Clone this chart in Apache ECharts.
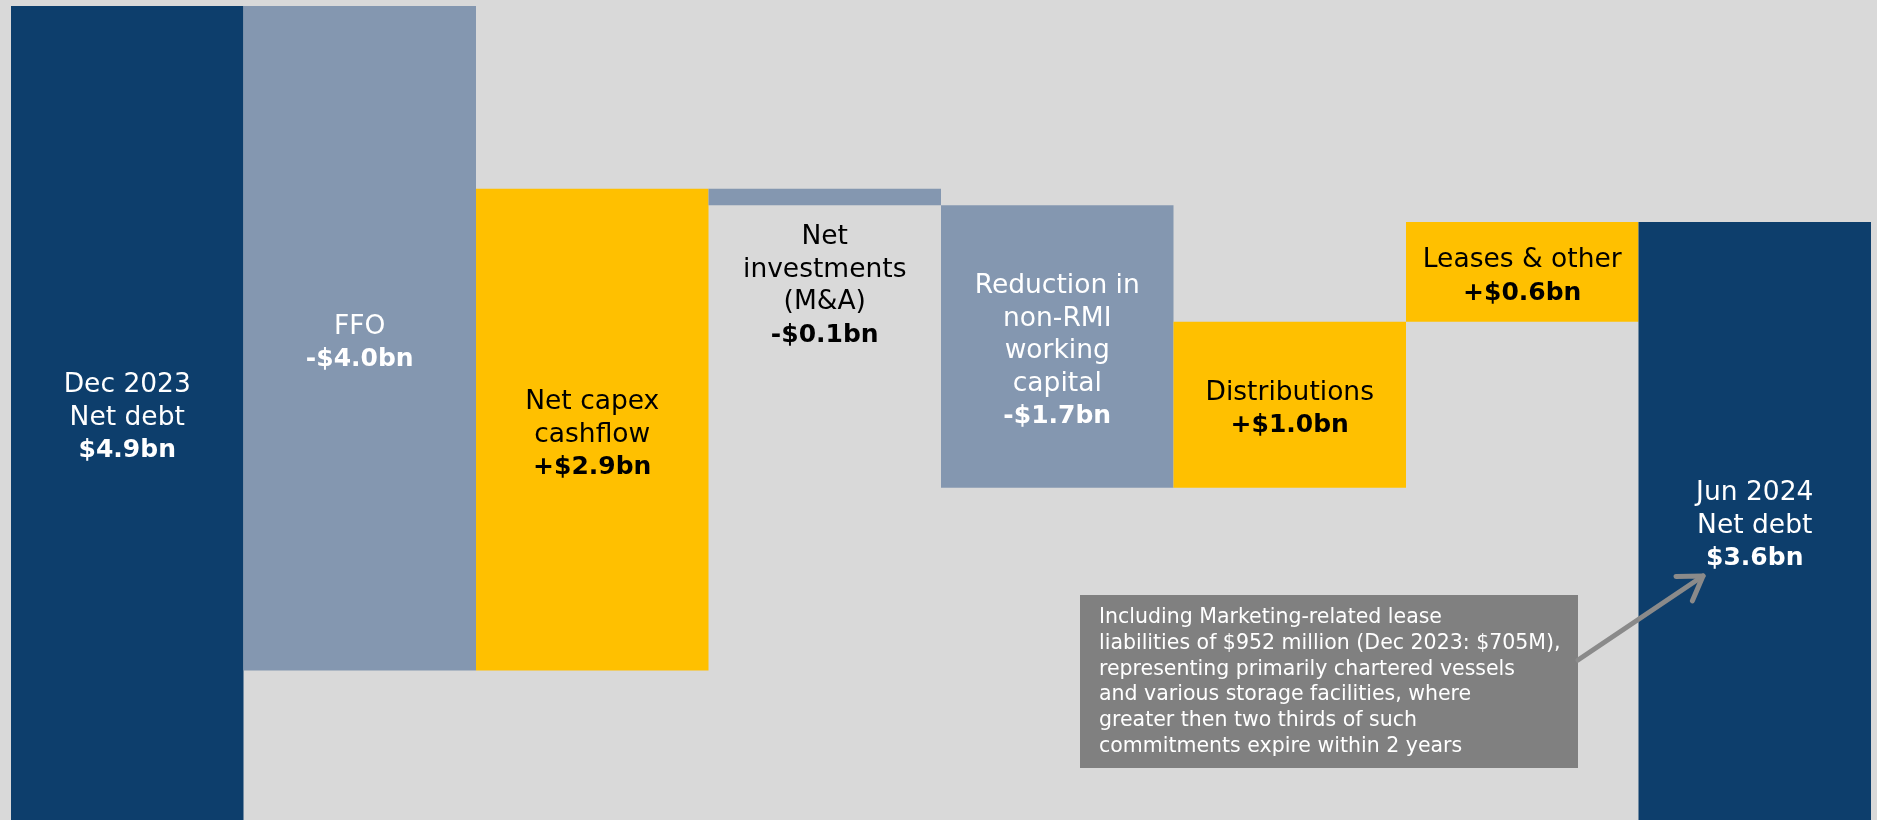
<!DOCTYPE html>
<html>
<head>
<meta charset="utf-8">
<title>Net debt bridge</title>
<script src="https://cdn.jsdelivr.net/npm/echarts@6/dist/echarts.min.js"></script>
<style>
  html, body { margin: 0; padding: 0; background: #D9D9D9; }
  #chart { width: 1877px; height: 820px; }
</style>
</head>
<body>
<div id="chart"></div>
<script>
// Net debt walk, Dec 2023 -> Jun 2024 (US$ bn)
const categories = [
  'Dec 2023\nNet debt',
  'FFO',
  'Net capex\ncashflow',
  'Net\ninvestments\n(M&A)',
  'Reduction in\nnon-RMI\nworking\ncapital',
  'Distributions',
  'Leases & other',
  'Jun 2024\nNet debt'
];
const amounts = [4.9, -4.0, 2.9, -0.1, -1.7, 1.0, 0.6, 3.6];
const kinds = ['total', 'change', 'change', 'change', 'change', 'change', 'change', 'total'];
const labelBelow = [false, false, false, true, false, false, false, false];
const noteLines = [
  'Including Marketing-related lease',
  'liabilities of $952 million (Dec 2023: $705M),',
  'representing primarily chartered vessels',
  'and various storage facilities, where',
  'greater then two thirds of such',
  'commitments expire within 2 years'
];

const COLORS = { total: '#0D3E6C', down: '#8497B0', up: '#FFC000' };
const FONT = '"DejaVu Sans", "Noto Sans", sans-serif';

// running totals -> invisible base + visible step
const bases = [];
const steps = [];
let running = 0;
amounts.forEach((v, i) => {
  if (kinds[i] === 'total') {
    bases.push(0);
    steps.push(v);
    running = v;
  } else {
    const next = running + v;
    bases.push(Math.min(running, next));
    steps.push(Math.abs(v));
    running = next;
  }
});

function valueText(i) {
  const v = amounts[i];
  const abs = '$' + Math.abs(v).toFixed(1) + 'bn';
  if (kinds[i] === 'total') return abs;
  return (v < 0 ? '-' : '+') + abs;
}

const stepData = steps.map((h, i) => {
  const kind = kinds[i] === 'total' ? 'total' : (amounts[i] < 0 ? 'down' : 'up');
  const color = COLORS[kind];
  const below = labelBelow[i];
  const textColor = below ? '#000000' : (kind === 'up' ? '#000000' : '#FFFFFF');
  const lines = categories[i].split('\n').map(l => '{t|' + l + '}');
  lines.push('{b|' + valueText(i) + '}');
  return {
    value: h,
    itemStyle: { color: color },
    label: {
      show: true,
      position: below ? 'bottom' : 'inside',
      distance: 16,
      padding: below ? 0 : [10, 0, 0, 0],
      formatter: lines.join('\n'),
      align: 'center',
      rich: {
        t: { fontFamily: FONT, fontSize: 26.5, lineHeight: 32.5, color: textColor },
        b: { fontFamily: FONT, fontSize: 25, lineHeight: 32.5, fontWeight: 'bold', color: textColor }
      }
    }
  };
});

const chart = echarts.init(document.getElementById('chart'));

// annotation arrow geometry (callout box -> closing bar)
const arrowFrom = [1578, 660];
const arrowTo = [1703, 576];
const ang = Math.atan2(arrowFrom[1] - arrowTo[1], arrowFrom[0] - arrowTo[0]);
const armLen = 27, spread = 33 * Math.PI / 180;
const armA = [arrowTo[0] + armLen * Math.cos(ang - spread), arrowTo[1] + armLen * Math.sin(ang - spread)];
const armB = [arrowTo[0] + armLen * Math.cos(ang + spread), arrowTo[1] + armLen * Math.sin(ang + spread)];

chart.setOption({
  backgroundColor: '#D9D9D9',
  animation: false,
  grid: { left: 11, right: 6, top: 6, bottom: -4, containLabel: false },
  xAxis: { type: 'category', data: categories, show: false },
  yAxis: { type: 'value', min: 0, max: 4.9, show: false },
  series: [
    {
      type: 'bar',
      stack: 'walk',
      silent: true,
      barCategoryGap: 0,
      itemStyle: { color: 'transparent' },
      data: bases
    },
    {
      type: 'bar',
      stack: 'walk',
      barCategoryGap: 0,
      data: stepData
    }
  ],
  graphic: [
    {
      type: 'rect',
      shape: { x: 1080, y: 595, width: 498, height: 173 },
      style: { fill: '#808080' },
      z: 10
    },
    {
      type: 'text',
      x: 1099,
      y: 605,
      style: {
        text: noteLines.join('\n'),
        fill: '#FFFFFF',
        font: '20.5px ' + FONT,
        lineHeight: 25.7,
        textVerticalAlign: 'top'
      },
      z: 11
    },
    {
      type: 'line',
      shape: { x1: arrowFrom[0], y1: arrowFrom[1], x2: arrowTo[0], y2: arrowTo[1] },
      style: { stroke: '#8A8A8A', lineWidth: 5, lineCap: 'round' },
      z: 10
    },
    {
      type: 'polyline',
      shape: { points: [armA, arrowTo, armB] },
      style: { stroke: '#8A8A8A', lineWidth: 5, lineCap: 'round', lineJoin: 'round', fill: null },
      z: 10
    }
  ]
});
</script>
</body>
</html>
